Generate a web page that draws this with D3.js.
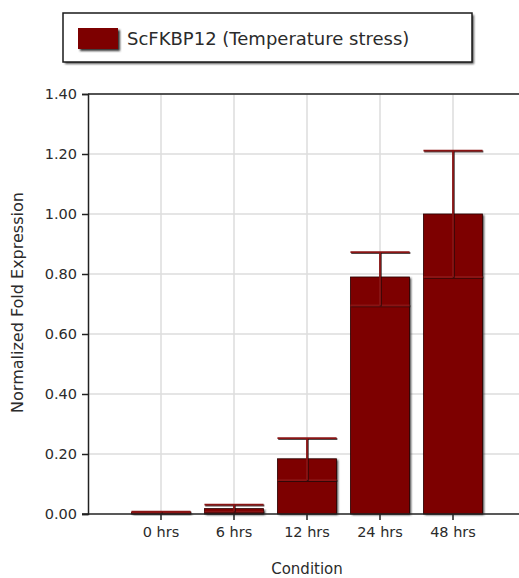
<!DOCTYPE html>
<html>
<head>
<meta charset="utf-8">
<script src="https://cdn.jsdelivr.net/npm/d3@7"></script>
<style>
  html, body { margin: 0; padding: 0; background: #ffffff; }
  svg { display: block; }
  text { font-family: Tahoma, "DejaVu Sans", sans-serif; fill: #2b2b2b; }
</style>
</head>
<body>
<svg id="chart" width="519" height="578"></svg>
<script>
// Relative expression of ScFKBP12 over a temperature-stress time course
const categories = ["0 hrs", "6 hrs", "12 hrs", "24 hrs", "48 hrs"];
const expression = [0.006, 0.018, 0.184, 0.790, 1.000];
const errorUpper = [0.008, 0.031, 0.253, 0.873, 1.211];
const errorLower = [0.004, 0.008, 0.113, 0.695, 0.790];
const yTicks = [0, 0.2, 0.4, 0.6, 0.8, 1.0, 1.2, 1.4];
const seriesName = "ScFKBP12 (Temperature stress)";
const barColor = "#7d0000";

const svg = d3.select("#chart");

const plot = { left: 88, right: 526, top: 94, bottom: 514 };

const x = d3.scaleBand()
  .domain(categories)
  .range([plot.left + 36.5, plot.left + 36.5 + 5 * 73])
  .paddingInner(0.19)
  .paddingOuter(0.095);

const y = d3.scaleLinear().domain([0, 1.4]).range([plot.bottom, plot.top]);

const defs = svg.append("defs");
const blur = defs.append("filter").attr("id", "soft")
  .attr("x", "-10%").attr("y", "-10%").attr("width", "130%").attr("height", "130%");
blur.append("feGaussianBlur").attr("stdDeviation", 0.8);

// Grid
const grid = svg.append("g");
grid.selectAll("line.h").data(yTicks.slice(1)).join("line")
  .attr("x1", plot.left).attr("x2", plot.right)
  .attr("y1", d => y(d)).attr("y2", d => y(d))
  .attr("stroke", "#dcdcdc").attr("stroke-width", 1.5);
grid.selectAll("line.v").data(categories).join("line")
  .attr("x1", d => x(d) + x.bandwidth() / 2).attr("x2", d => x(d) + x.bandwidth() / 2)
  .attr("y1", plot.top).attr("y2", plot.bottom)
  .attr("stroke", "#dcdcdc").attr("stroke-width", 1.5);

// Top frame line
svg.append("line")
  .attr("x1", plot.left).attr("x2", plot.right)
  .attr("y1", plot.top).attr("y2", plot.top)
  .attr("stroke", "#222").attr("stroke-width", 1.5);

// Bars with a soft drop shadow
const bars = svg.append("g");
bars.selectAll("rect.shadow").data(expression).join("rect")
  .attr("x", (d, i) => x(categories[i]) + 1.5)
  .attr("y", d => y(d) + 1)
  .attr("width", x.bandwidth())
  .attr("height", d => y(0) - y(d))
  .attr("fill", "#3a3a3a")
  .attr("filter", "url(#soft)");
bars.selectAll("rect.bar").data(expression).join("rect")
  .attr("x", (d, i) => x(categories[i]))
  .attr("y", d => y(d))
  .attr("width", x.bandwidth())
  .attr("height", d => y(0) - y(d))
  .attr("fill", barColor)
  .attr("stroke", "#2a0000").attr("stroke-width", 0.8);

// Error bars: a dark shadow stroke beneath a red stroke
const err = svg.append("g");
function errorPaths(i) {
  const cx = x(categories[i]) + x.bandwidth() / 2;
  const x0 = x(categories[i]), x1 = x0 + x.bandwidth();
  return [
    [[x0, y(errorUpper[i])], [x1, y(errorUpper[i])]],
    [[x0, y(errorLower[i])], [x1, y(errorLower[i])]],
    [[cx, y(errorUpper[i])], [cx, y(errorLower[i])]]
  ];
}
categories.forEach((c, i) => {
  errorPaths(i).forEach(seg => {
    err.append("line")
      .attr("x1", seg[0][0] + 0.8).attr("y1", seg[0][1] + 0.8)
      .attr("x2", seg[1][0] + 0.8).attr("y2", seg[1][1] + 0.8)
      .attr("stroke", "#1a0a0a").attr("stroke-width", 2).attr("opacity", 0.75);
    err.append("line")
      .attr("x1", seg[0][0]).attr("y1", seg[0][1])
      .attr("x2", seg[1][0]).attr("y2", seg[1][1])
      .attr("stroke", "#8a1414").attr("stroke-width", 1.8);
  });
});

// Axes
const yAxis = svg.append("g")
  .attr("transform", `translate(${plot.left},0)`)
  .call(d3.axisLeft(y).tickValues(yTicks).tickFormat(d3.format(".2f")).tickSize(6).tickPadding(5));
yAxis.select(".domain").attr("stroke", "#222").attr("stroke-width", 1.5);
yAxis.selectAll(".tick line").attr("stroke", "#222").attr("stroke-width", 1.5);
yAxis.selectAll(".tick text").attr("font-size", 14.5).attr("font-family", null).attr("fill", "#2b2b2b");

const xAxis = svg.append("g")
  .attr("transform", `translate(0,${plot.bottom})`)
  .call(d3.axisBottom(x).tickSize(6).tickPadding(7).tickSizeOuter(0));
xAxis.select(".domain").attr("stroke", "#222").attr("stroke-width", 1.5)
  .attr("d", `M${plot.left - 6},0H${plot.right}`);
xAxis.selectAll(".tick line").attr("stroke", "#222").attr("stroke-width", 1.5);
xAxis.selectAll(".tick text").attr("font-size", 14.5).attr("font-family", null).attr("fill", "#2b2b2b");

// Axis titles
svg.append("text")
  .attr("x", 307).attr("y", 574)
  .attr("text-anchor", "middle").attr("font-size", 15)
  .text("Condition");
svg.append("text")
  .attr("transform", `translate(23,${(192 + 413) / 2}) rotate(-90)`)
  .attr("text-anchor", "middle").attr("font-size", 16)
  .text("Normalized Fold Expression");

// Legend
const legend = svg.append("g");
legend.append("rect")
  .attr("x", 65).attr("y", 15).attr("width", 409).attr("height", 49)
  .attr("fill", "#555").attr("filter", "url(#soft)");
legend.append("rect")
  .attr("x", 63).attr("y", 13).attr("width", 409).attr("height", 49)
  .attr("fill", "#fff").attr("stroke", "#1a1a1a").attr("stroke-width", 1.5);
legend.append("rect")
  .attr("x", 80).attr("y", 30).attr("width", 40).attr("height", 21)
  .attr("fill", "#333").attr("filter", "url(#soft)");
legend.append("rect")
  .attr("x", 78).attr("y", 28).attr("width", 40).attr("height", 21)
  .attr("fill", barColor);
legend.append("text")
  .attr("x", 127).attr("y", 45).attr("font-size", 18)
  .text(seriesName);
</script>
</body>
</html>
